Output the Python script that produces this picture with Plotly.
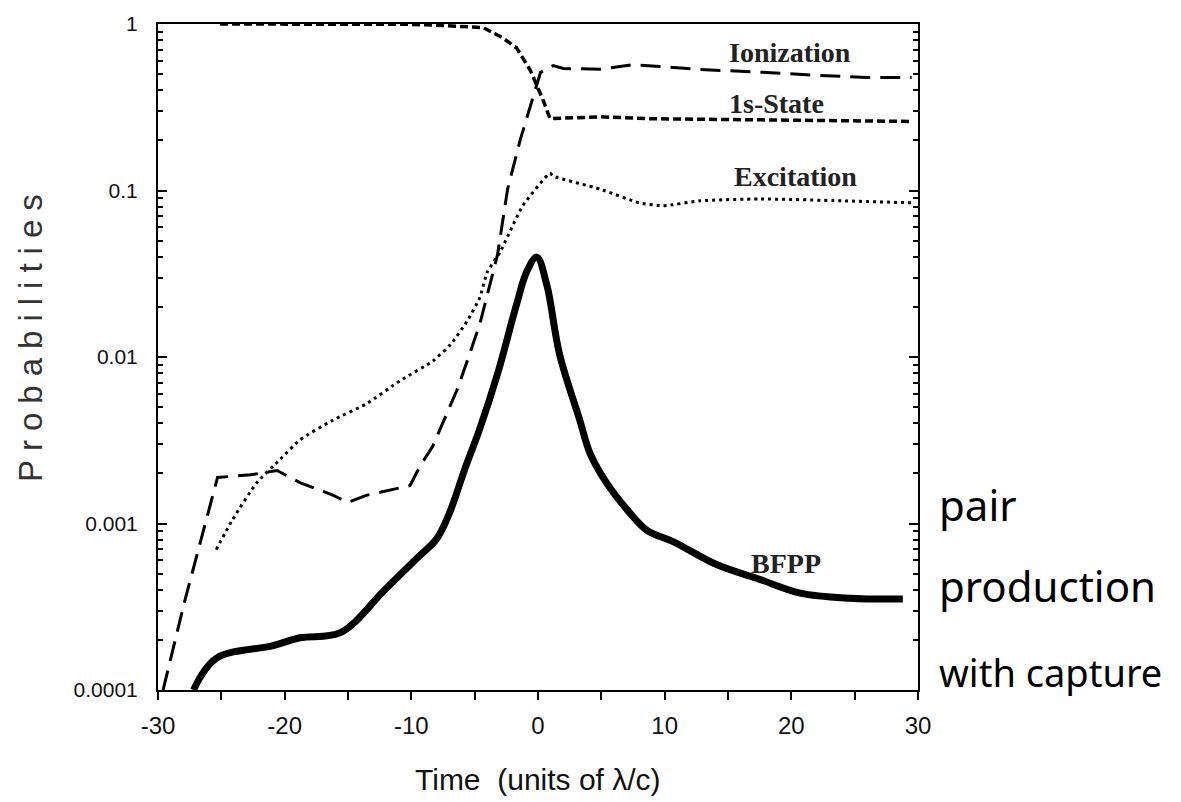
import plotly.graph_objects as go

# ---- data ----
ion_t = [-29.6, -27.9, -25.3, -22.7, -20.6, -18.8, -16.2, -15.0, -13.5, -10.1, -9.3, -8.3,
         -6.3, -4.6, -3.2, -2.4, -1.4, -0.6, 0.2, 1.2, 2.0, 5.0, 7.5, 9.6, 12.8, 18.0,
         22.0, 26.0, 29.5]
ion_v = [1.0e-4, 3.4e-4, 1.89e-3, 1.96e-3, 2.08e-3, 1.76e-3, 1.48e-3, 1.34e-3, 1.48e-3,
         1.69e-3, 2.22e-3, 2.92e-3, 6.6e-3, 0.0157, 0.041, 0.102, 0.202, 0.317, 0.512,
         0.563, 0.54, 0.535, 0.57, 0.556, 0.533, 0.512, 0.491, 0.478, 0.478]

s1_t = [-25.1, -20.0, -15.0, -10.0, -7.5, -4.3, -2.8, -1.7, -0.6, 0.4, 0.95, 4.9, 8.8,
        16.7, 29.5]
s1_v = [1.0, 1.0, 1.0, 0.995, 0.98, 0.95, 0.826, 0.72, 0.526, 0.349, 0.27, 0.277,
        0.27, 0.266, 0.26]

exc_t = [-25.4, -24.1, -22.2, -20.4, -18.8, -16.2, -13.5, -10.9, -8.3, -6.9, -5.6, -4.6,
         -4.0, -3.0, -1.2, 0.95, 1.2, 4.9, 8.0, 9.9, 12.8, 17.5, 24.0, 29.5]
exc_v = [6.97e-4, 1.06e-3, 1.76e-3, 2.41e-3, 3.18e-3, 4.17e-3, 5.26e-3, 7.2e-3, 9.46e-3,
         0.0119, 0.0164, 0.0227, 0.0324, 0.0426, 0.081, 0.127, 0.122, 0.102, 0.0843,
         0.081, 0.0867, 0.089, 0.0867, 0.0843]

bfpp_t = [-27.2, -25.4, -20.9, -18.8, -15.6, -12.2, -9.6, -8.0, -7.0, -5.8, -4.6, -3.2,
          -1.7, -0.9, -0.1, 0.7, 1.7, 3.3, 4.1, 5.4, 7.0, 8.6, 10.7, 14.1, 17.5, 20.7,
          24.6, 28.8]
bfpp_v = [1.0e-4, 1.55e-4, 1.85e-4, 2.06e-4, 2.21e-4, 3.92e-4, 6.15e-4, 8.09e-4, 1.15e-3,
          2.1e-3, 3.7e-3, 7.9e-3, 0.0206, 0.0324, 0.0398, 0.027, 0.0104, 4.17e-3, 2.65e-3,
          1.76e-3, 1.22e-3, 9.1e-4, 7.76e-4, 5.67e-4, 4.62e-4, 3.82e-4, 3.56e-4, 3.52e-4]

x_tickvals = [-30, -20, -10, 0, 10, 20, 30]
x_ticktext = ["-30", "-20", "-10", "0", "10", "20", "30"]
y_tickvals = [1e-4, 1e-3, 1e-2, 1e-1, 1]
y_ticktext = ["0.0001", "0.001", "0.01", "0.1", "1"]
y_minor = [m * 10.0 ** e for e in range(-4, 0) for m in range(2, 10)]

labels = ["Ionization", "1s-State", "Excitation", "BFPP"]
label_t = [19.9, 18.8, 20.3, 19.6]
label_logv = [-0.172, -0.48, -0.914, -3.24]

fig = go.Figure()
fig.add_trace(go.Scatter(x=ion_t, y=ion_v, mode="lines",
                         line=dict(color="black", width=3, dash="20px,10px")))
fig.add_trace(go.Scatter(x=s1_t, y=s1_v, mode="lines",
                         line=dict(color="black", width=3.5, dash="8px,4px")))
fig.add_trace(go.Scatter(x=exc_t, y=exc_v, mode="lines",
                         line=dict(color="black", width=3, dash="3px,4px", shape="spline",
                                   smoothing=0.5)))
fig.add_trace(go.Scatter(x=bfpp_t, y=bfpp_v, mode="lines",
                         line=dict(color="black", width=7, shape="spline", smoothing=1.0)))

for txt, t, lv in zip(labels, label_t, label_logv):
    fig.add_annotation(x=t, y=lv, xref="x", yref="y", text="<b>" + txt + "</b>",
                       showarrow=False,
                       font=dict(family="Liberation Serif", size=28, color="#222"))

fig.add_annotation(x=-0.168, y=0.535, xref="paper", yref="paper", textangle=-90,
                   text='<span style="letter-spacing:9px">Probabilities</span>',
                   showarrow=False, xanchor="center", yanchor="middle",
                   font=dict(family="Liberation Sans", size=33, color="#333"))
fig.add_annotation(x=0.5, y=-0.134, xref="paper", yref="paper",
                   text="Time\u00a0\u00a0(units of \u03bb/c)", showarrow=False,
                   xanchor="center", yanchor="middle",
                   font=dict(family="Liberation Sans", size=30, color="#111"))

hand = ["pair", "production", "with capture"]
hand_y = [0.279, 0.157, 0.027]
hand_size = [42, 42, 38]
for txt, yy, sz in zip(hand, hand_y, hand_size):
    fig.add_annotation(x=1.025, y=yy, xref="paper", yref="paper", text=txt,
                       showarrow=False, xanchor="left", yanchor="middle",
                       font=dict(family="Noto Sans", size=sz, color="black"))

fig.update_layout(
    width=1181, height=802,
    margin=dict(l=158, r=263, t=16, b=112),
    paper_bgcolor="white", plot_bgcolor="white",
    showlegend=False,
    xaxis=dict(range=[-30, 30], tickmode="array", tickvals=x_tickvals, ticktext=x_ticktext,
               ticks="outside", ticklen=8, tickwidth=2, tickcolor="black",
               showline=True, linewidth=2, linecolor="black", mirror=True,
               showgrid=False, zeroline=False, ticklabelstandoff=5,
               tickfont=dict(family="Liberation Sans", size=24, color="#111"),
               minor=dict(ticks="outside", dtick=5, tick0=0, ticklen=8, tickwidth=2,
                          tickcolor="black", showgrid=False)),
    yaxis=dict(type="log", range=[-4, 0], tickmode="array", tickvals=y_tickvals,
               ticktext=y_ticktext, ticks="inside", ticklen=9, tickwidth=2,
               tickcolor="black", showline=True, linewidth=2, linecolor="black",
               mirror="allticks", showgrid=False, zeroline=False, ticklabelstandoff=14,
               tickfont=dict(family="Liberation Sans", size=21, color="#111"),
               minor=dict(ticks="inside", tickmode="array", tickvals=y_minor, ticklen=5,
                          tickwidth=1.5, tickcolor="black", showgrid=False)),
)

fig.write_html("out.html")
